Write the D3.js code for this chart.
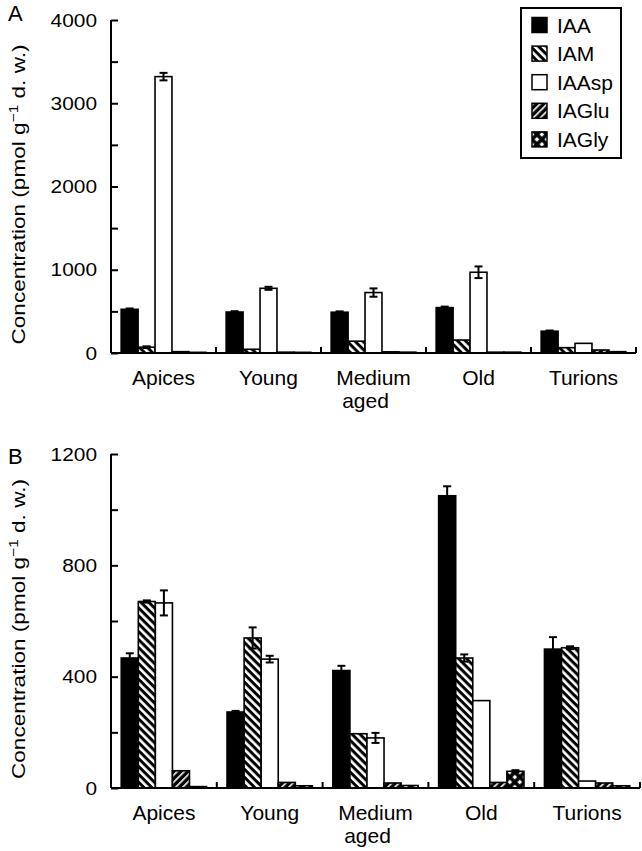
<!DOCTYPE html>
<html>
<head>
<meta charset="utf-8">
<script src="https://cdn.jsdelivr.net/npm/d3@7"></script>
<style>
  body { margin: 0; background: #fff; }
  text { font-family: "Liberation Sans", Arial, sans-serif; fill: #000; }
</style>
</head>
<body>
<div id="chart"></div>
<script>
const categories = ["Apices", "Young", "Medium aged", "Old", "Turions"];
const series = ["IAA", "IAM", "IAAsp", "IAGlu", "IAGly"];

// panel A
const aIAA   = [525, 492, 490, 545, 262];
const aIAM   = [70, 45, 142, 156, 64];
const aIAAsp = [3320, 777, 726, 970, 116];
const aIAGlu = [16, 10, 14, 10, 36];
const aIAGly = [8, 8, 10, 10, 16];
const aErrIAA   = [10, 10, 10, 12, 8];
const aErrIAM   = [10, 0, 0, 0, 0];
const aErrIAAsp = [45, 18, 50, 70, 0];
const aTicks = [0, 1000, 2000, 3000, 4000];

// panel B
const bIAA   = [467, 273, 422, 1050, 499];
const bIAM   = [670, 539, 195, 467, 504];
const bIAAsp = [665, 463, 180, 314, 25];
const bIAGlu = [62, 20, 18, 20, 18];
const bIAGly = [5, 8, 9, 60, 8];
const bErrIAA   = [17, 4, 17, 34, 43];
const bErrIAM   = [4, 38, 0, 13, 5];
const bErrIAAsp = [45, 12, 18, 0, 0];
const bErrIAGly = [0, 0, 0, 4, 0];
const bTicks = [0, 400, 800, 1200];

const width = 642, height = 851;

const svg = d3.select("#chart").append("svg")
  .attr("width", width)
  .attr("height", height);

// fill patterns
const defs = svg.append("defs");
function stripes(id, size, white, angle) {
  const p = defs.append("pattern")
    .attr("id", id)
    .attr("patternUnits", "userSpaceOnUse")
    .attr("width", size).attr("height", size)
    .attr("patternTransform", `rotate(${angle})`);
  p.append("rect").attr("width", size).attr("height", size).attr("fill", "#000");
  p.append("rect").attr("width", white).attr("height", size).attr("fill", "#fff");
}
stripes("p-IAM", 5.6, 2.6, -45);
stripes("p-IAGlu", 5, 1.6, 45);
const gly = defs.append("pattern")
  .attr("id", "p-IAGly")
  .attr("patternUnits", "userSpaceOnUse")
  .attr("width", 7).attr("height", 7)
  .attr("patternTransform", "rotate(45)");
gly.append("rect").attr("width", 7).attr("height", 7).attr("fill", "#000");
gly.append("rect").attr("x", 1.8).attr("y", 1.8).attr("width", 3.4).attr("height", 3.4).attr("fill", "#fff");

const fills = {IAA: "#000", IAM: "url(#p-IAM)", IAAsp: "#fff", IAGlu: "url(#p-IAGlu)", IAGly: "url(#p-IAGly)"};

function panel(opt) {
  const {values, errors, maxY, step, ticks, top, bottom, left, right, letter, letterY} = opt;
  const g = svg.append("g");

  const x0 = d3.scaleBand().domain(categories).range([left, right]);
  const x1 = d3.scaleBand().domain(series).range([0, x0.bandwidth()]).paddingOuter(0.6);
  const y = d3.scaleLinear().domain([0, maxY]).range([bottom, top]);

  const rows = [];
  categories.forEach((c, i) => {
    series.forEach(s => {
      rows.push({cat: c, s: s, v: values[s][i], e: errors[s] ? errors[s][i] : 0});
    });
  });

  // bars
  g.selectAll("rect.bar")
    .data(rows)
    .enter()
    .append("rect")
    .attr("class", "bar")
    .attr("x", d => x0(d.cat) + x1(d.s))
    .attr("y", d => y(d.v))
    .attr("width", x1.bandwidth())
    .attr("height", d => y(0) - y(d.v))
    .attr("fill", d => fills[d.s])
    .attr("stroke", "#000")
    .attr("stroke-width", 1.6);

  // error bars
  const eb = g.selectAll("g.err")
    .data(rows.filter(d => d.e > 0))
    .enter()
    .append("g")
    .attr("class", "err")
    .attr("stroke", "#000")
    .attr("stroke-width", 2);
  const cx = d => x0(d.cat) + x1(d.s) + x1.bandwidth() / 2;
  eb.append("line")
    .attr("x1", cx).attr("x2", cx)
    .attr("y1", d => y(d.v + d.e)).attr("y2", d => y(Math.max(d.v - d.e, 0)));
  eb.append("line")
    .attr("x1", d => cx(d) - 4).attr("x2", d => cx(d) + 4)
    .attr("y1", d => y(d.v + d.e)).attr("y2", d => y(d.v + d.e));
  eb.append("line")
    .attr("x1", d => cx(d) - 4).attr("x2", d => cx(d) + 4)
    .attr("y1", d => y(d.v - d.e)).attr("y2", d => y(d.v - d.e));

  // y axis
  const yAxis = d3.axisLeft(y)
    .tickValues(d3.range(0, maxY + 1, step))
    .tickSize(-7)
    .tickPadding(14)
    .tickFormat(d => ticks.includes(d) ? d : "");
  const ya = g.append("g")
    .attr("transform", `translate(${left},0)`)
    .call(yAxis);
  ya.select(".domain").attr("stroke-width", 2).attr("d", `M0,${y(0)}V${y(maxY)}`);
  ya.selectAll(".tick line").attr("stroke-width", 2);
  ya.selectAll(".tick text")
    .style("font-family", "Liberation Sans, Arial, sans-serif")
    .style("font-size", "19px")
    .attr("textLength", d => ticks.includes(d) ? String(d).length * 11.6 : null)
    .attr("lengthAdjust", "spacingAndGlyphs");

  // x axis
  g.append("line")
    .attr("x1", left).attr("x2", right)
    .attr("y1", y(0)).attr("y2", y(0))
    .attr("stroke", "#000").attr("stroke-width", 2);
  g.selectAll("line.xt")
    .data(categories)
    .enter()
    .append("line")
    .attr("class", "xt")
    .attr("x1", d => x0(d) + x0.bandwidth()).attr("x2", d => x0(d) + x0.bandwidth())
    .attr("y1", y(0)).attr("y2", y(0) - 6)
    .attr("stroke", "#000").attr("stroke-width", 2);

  // category labels
  const lab = g.selectAll("text.cat")
    .data(categories)
    .enter()
    .append("text")
    .attr("class", "cat")
    .attr("text-anchor", "middle")
    .attr("x", d => x0(d) + x0.bandwidth() / 2)
    .attr("y", y(0) + 32)
    .style("font-size", "21px");
  lab.each(function(d) {
    const words = d.split(" ");
    const t = d3.select(this);
    words.forEach((w, i) => {
      t.append("tspan")
        .attr("x", x0(d) + x0.bandwidth() / 2 - (i ? 8 : 0))
        .attr("dy", i ? 23 : 0)
        .text(w);
    });
  });

  // y title
  const yt = g.append("text")
    .attr("transform", `translate(25,${(top + bottom) / 2 + 8}) rotate(-90)`)
    .attr("text-anchor", "middle")
    .attr("textLength", 300)
    .attr("lengthAdjust", "spacingAndGlyphs")
    .style("font-size", "19px");
  yt.append("tspan").text("Concentration (pmol g");
  yt.append("tspan").attr("dy", -7).style("font-size", "13px").text("\u22121");
  yt.append("tspan").attr("dy", 7).text(" d. w.)");

  // panel letter
  g.append("text")
    .attr("x", 8).attr("y", letterY)
    .style("font-size", "22px")
    .text(letter);

  return {x0, y};
}

panel({
  values: {IAA: aIAA, IAM: aIAM, IAAsp: aIAAsp, IAGlu: aIAGlu, IAGly: aIAGly},
  errors: {IAA: aErrIAA, IAM: aErrIAM, IAAsp: aErrIAAsp},
  maxY: 4000, step: 500, ticks: aTicks,
  top: 20, bottom: 353, left: 111, right: 636,
  letter: "A", letterY: 21
});

panel({
  values: {IAA: bIAA, IAM: bIAM, IAAsp: bIAAsp, IAGlu: bIAGlu, IAGly: bIAGly},
  errors: {IAA: bErrIAA, IAM: bErrIAM, IAAsp: bErrIAAsp, IAGly: bErrIAGly},
  maxY: 1200, step: 200, ticks: bTicks,
  top: 454, bottom: 788, left: 111, right: 640,
  letter: "B", letterY: 464
});

// legend
const legend = svg.append("g").attr("transform", "translate(521,8)");
legend.append("rect")
  .attr("width", 100).attr("height", 150)
  .attr("fill", "#fff").attr("stroke", "#000").attr("stroke-width", 2);
const li = legend.selectAll("g.item")
  .data(series)
  .enter()
  .append("g")
  .attr("class", "item")
  .attr("transform", (d, i) => `translate(11,${17 + i * 28.6})`);
li.append("rect")
  .attr("y", -7.5)
  .attr("width", 15).attr("height", 15)
  .attr("fill", d => fills[d])
  .attr("stroke", "#000").attr("stroke-width", 1.5);
li.append("text")
  .attr("x", 25).attr("y", 7.5)
  .style("font-size", "21px")
  .text(d => d);
</script>
</body>
</html>
